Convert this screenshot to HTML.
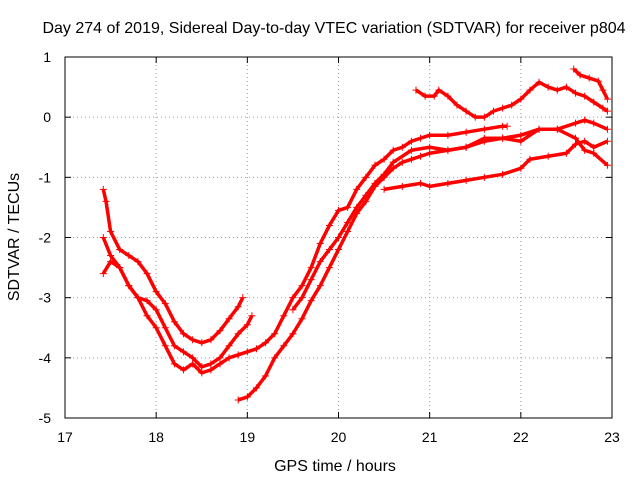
<!DOCTYPE html>
<html><head><meta charset="utf-8"><style>
body{margin:0;background:#fff}
svg{display:block;font-family:"Liberation Sans",sans-serif;font-size:14px}
</style></head><body>
<svg id="chart" width="640" height="480"></svg>
<script>
const xTicks=[17,18,19,20,21,22,23];
const yTicks=[1,0,-1,-2,-3,-4,-5];
const s1x=[17.42,17.45,17.5,17.6,17.7,17.8,17.9,18.0,18.1,18.2,18.3,18.4,18.5,18.6,18.7,18.8,18.9,18.95];
const s1y=[-1.2,-1.4,-1.9,-2.2,-2.3,-2.4,-2.6,-2.9,-3.1,-3.4,-3.6,-3.7,-3.75,-3.7,-3.55,-3.35,-3.15,-3.0];
const s2x=[17.42,17.5,17.6,17.7,17.8,17.9,18.0,18.1,18.2,18.3,18.4,18.5,18.6,18.7,18.8,18.9,19.0,19.05];
const s2y=[-2.0,-2.3,-2.5,-2.8,-3.0,-3.05,-3.2,-3.5,-3.8,-3.9,-4.0,-4.15,-4.1,-4.0,-3.8,-3.6,-3.45,-3.3];
const s3x=[17.42,17.5,17.6,17.7,17.8,17.9,18.0,18.1,18.2,18.3,18.4,18.5,18.6,18.7,18.8,18.9,19.0,19.1,19.2,19.3,19.4,19.5,19.6,19.7,19.8,19.9,20.0,20.1,20.2,20.3,20.4,20.5,20.6,20.7,20.8,20.9,21.0,21.2,21.4,21.6,21.8,21.85];
const s3y=[-2.6,-2.4,-2.5,-2.8,-3.0,-3.3,-3.5,-3.8,-4.1,-4.2,-4.1,-4.25,-4.2,-4.1,-4.0,-3.95,-3.9,-3.85,-3.75,-3.6,-3.3,-3.0,-2.8,-2.5,-2.1,-1.8,-1.55,-1.5,-1.2,-1.0,-0.8,-0.7,-0.55,-0.5,-0.4,-0.35,-0.3,-0.3,-0.25,-0.2,-0.15,-0.15];
const s4x=[18.9,19.0,19.1,19.2,19.3,19.4,19.5,19.6,19.7,19.8,19.9,20.0,20.1,20.2,20.3,20.4,20.5,20.6,20.7,20.8,20.9,21.0,21.2,21.4,21.6,21.8,22.0,22.2,22.4,22.6,22.7,22.8,22.95];
const s4y=[-4.7,-4.65,-4.5,-4.3,-4.0,-3.8,-3.6,-3.35,-3.05,-2.8,-2.5,-2.2,-1.9,-1.6,-1.4,-1.15,-1.0,-0.85,-0.75,-0.7,-0.65,-0.6,-0.55,-0.5,-0.35,-0.35,-0.4,-0.2,-0.2,-0.1,-0.05,-0.1,-0.2];
const s5x=[19.5,19.6,19.7,19.8,19.9,20.0,20.1,20.2,20.3,20.4,20.5,20.6,20.8,21.0,21.2,21.4,21.6,21.8,22.0,22.2,22.4,22.6,22.7,22.8,22.95];
const s5y=[-3.2,-3.0,-2.7,-2.4,-2.2,-2.0,-1.75,-1.5,-1.3,-1.1,-0.95,-0.75,-0.55,-0.5,-0.55,-0.5,-0.4,-0.35,-0.3,-0.2,-0.2,-0.35,-0.55,-0.6,-0.8];
const s6x=[20.5,20.7,20.9,21.0,21.2,21.4,21.6,21.8,22.0,22.1,22.3,22.5,22.6,22.7,22.8,22.95];
const s6y=[-1.2,-1.15,-1.1,-1.15,-1.1,-1.05,-1.0,-0.95,-0.85,-0.7,-0.65,-0.6,-0.45,-0.4,-0.5,-0.4];
const s7x=[20.85,20.95,21.05,21.1,21.2,21.3,21.4,21.5,21.6,21.7,21.8,21.9,22.0,22.1,22.2,22.3,22.4,22.5,22.6,22.7,22.8,22.9,22.95];
const s7y=[0.45,0.35,0.35,0.45,0.35,0.2,0.1,0.0,0.0,0.1,0.15,0.2,0.3,0.45,0.58,0.5,0.45,0.5,0.4,0.35,0.25,0.15,0.1];
const s8x=[22.58,22.65,22.75,22.85,22.9,22.95];
const s8y=[0.8,0.7,0.65,0.6,0.45,0.3];
const seriesX=[s1x,s2x,s3x,s4x,s5x,s6x,s7x,s8x];
const seriesY=[s1y,s2y,s3y,s4y,s5y,s6y,s7y,s8y];
const L=65,R=612,T=57,B=418;
const sx=v=>L+(v-17)/6*(R-L);
const sy=v=>T+(1-v)/6*(B-T);
const svg=document.getElementById('chart');
const NS='http://www.w3.org/2000/svg';
function mk(tag,at,parent){const e=document.createElementNS(NS,tag);for(const k in at)e.setAttribute(k,at[k]);(parent||svg).appendChild(e);return e;}
let t=mk('text',{x:334,y:33,'text-anchor':'middle','font-size':'16'});


t.textContent='Day 274 of 2019, Sidereal Day-to-day VTEC variation (SDTVAR) for receiver p804';
xTicks.forEach(v=>{
 const x=sx(v);
 if(v>17&&v<23){const g=mk('line',{x1:x,x2:x,y1:T,y2:B,stroke:'#a0a0a0','stroke-dasharray':'1,3'});
 
 }
 mk('line',{x1:x,x2:x,y1:B,y2:B-6,stroke:'#000'});mk('line',{x1:x,x2:x,y1:T,y2:T+6,stroke:'#000'});
 const l=mk('text',{x:x,y:442,'text-anchor':'middle'});
 
 
 l.textContent=v;
});
yTicks.forEach(v=>{
 const y=sy(v);
 if(v<1&&v>-5){const g=mk('line',{x1:L,x2:R,y1:y,y2:y,stroke:'#a0a0a0','stroke-dasharray':'1,3'});
 
 }
 mk('line',{x1:L,x2:L+6,y1:y,y2:y,stroke:'#000'});mk('line',{x1:R,x2:R-6,y1:y,y2:y,stroke:'#000'});
 const l=mk('text',{x:51,y:y+5,'text-anchor':'end'});
 
 
 l.textContent=v;
});
const fr=mk('rect',{x:L,y:T,width:R-L,height:B-T,fill:'none',stroke:'#000'});


seriesX.forEach((xs,i)=>{
 const ys=seriesY[i];
 const g=mk('g',{});
 
 
 mk('polyline',{points:xs.map((x,j)=>sx(x)+','+sy(ys[j])).join(' '),fill:'none',stroke:'#f00','stroke-width':3.5,'stroke-linejoin':'round'},g);
 xs.forEach((x,j)=>{const px=sx(x),py=sy(ys[j]);
  mk('path',{d:`M${px-3.5},${py}h7M${px},${py-3.5}v7`,stroke:'#f00','stroke-width':1},g);});
});
const xl=mk('text',{x:335,y:471,'text-anchor':'middle','font-size':'16'});


xl.textContent='GPS time / hours';
const yl=mk('text',{x:0,y:0,'text-anchor':'middle','font-size':'16',transform:'translate(19,237) rotate(-90)'});


yl.textContent='SDTVAR / TECUs';
</script>
</body></html>
